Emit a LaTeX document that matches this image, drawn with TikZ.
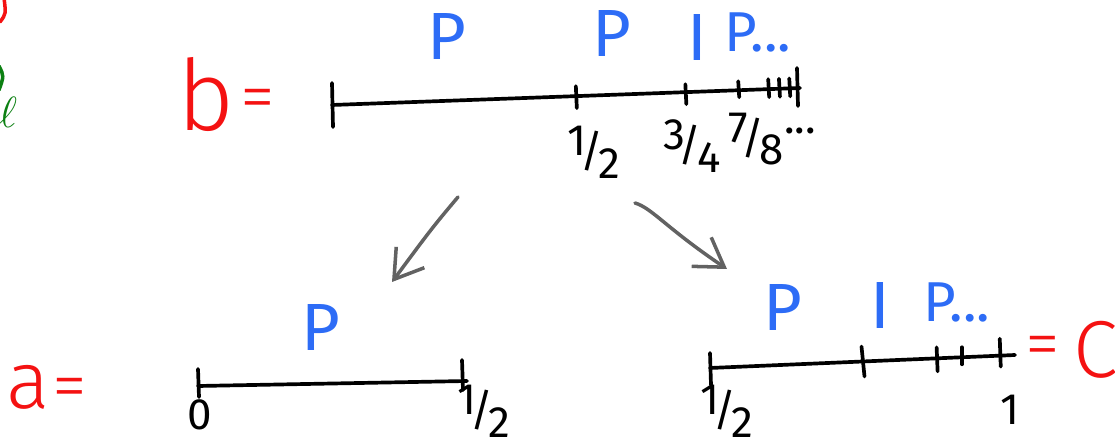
\documentclass[tikz,border=0pt]{standalone}
\usepackage{fontspec}
\setmainfont{Fira Sans}
\newfontfamily\handfont{Fira Sans Light}
\usepackage{tikz}
\usetikzlibrary{
  arrows.meta,
  positioning
}
\definecolor{inkblue}{RGB}{45,108,246}
\definecolor{inkred}{RGB}{244,18,18}
\definecolor{inkgreen}{RGB}{12,128,18}
\definecolor{inkgray}{RGB}{98,98,98}
\newcommand{\hfrac}[2]{\raisebox{0.26em}{#1}\kern-0.14em/\kern-0.1em\raisebox{-0.26em}{#2}}
\tikzset{
  axisline/.style={
    draw=black,
    line width=2.1pt,
    line cap=round,
  },
  tickmark/.style={
    draw=black,
    line width=2.1pt,
    line cap=round,
  },
  ticklbl/.style={
    font=\fontsize{25}{25}\selectfont,
    inner sep=0pt,
  },
  partlbl/.style={
    text=inkblue,
    font=\fontsize{38}{38}\selectfont,
    inner sep=0pt,
  },
  setlbl/.style={
    text=inkred,
    font=\handfont\fontsize{46}{46}\selectfont,
    inner sep=0pt,
  },
  maparr/.style={
    draw=inkgray,
    line width=2pt,
    line cap=round,
    -{Straight Barb[length=5.5mm, width=7mm, line width=2pt]},
  },
}

\begin{document}
\begin{tikzpicture}[
  x=0.02cm, y=-0.02cm,
  every node/.style={align=center},
]
  \useasboundingbox (0,0) rectangle (1115,438);

  % cut-off scribbles at the left edge
  \draw[draw=inkred, line width=2pt, line cap=round] (4,-2) .. controls (6,14) .. (0,22);
  \draw[draw=inkgreen, line width=2pt, line cap=round] (-1,66) .. controls (4,76) .. (-1,90);
  \node[text=inkgreen, font=\fontsize{36}{36}\selectfont, inner sep=0pt] (ell) at (8,112) {$\ell$};

  % Row 1 — the whole interval b
  \node[setlbl, font=\handfont\fontsize{56}{56}\selectfont] (bname) at (206,94) {b};
  \node[setlbl, font=\handfont\fontsize{40}{40}\selectfont] (beq) at (258,105) {=};

  \coordinate (b0) at (332,105);
  \coordinate (b1) at (800,88);
  \draw[axisline] (b0) -- (b1);
  \path (b0) -- (b1)
    coordinate[pos=0.521] (bh)
    coordinate[pos=0.755] (bq)
    coordinate[pos=0.868] (be)
    coordinate[pos=0.932] (bx1)
    coordinate[pos=0.955] (bx2)
    coordinate[pos=0.977] (bx3);
  \draw[tickmark] (b0) ++(0,-22) -- ++(1,44);
  \draw[tickmark] (bh) ++(0,-10) -- ++(1,22);
  \draw[tickmark] (bq) ++(0,-8) -- ++(1,20);
  \draw[tickmark] (be) ++(0,-9) -- ++(1,16);
  \draw[tickmark] (bx1) ++(0,-10) -- ++(1,18);
  \draw[tickmark] (bx2) ++(0,-10) -- ++(1,18);
  \draw[tickmark] (bx3) ++(0,-10) -- ++(1,18);
  \draw[tickmark] (b1) ++(-3,-20) -- ++(1,38);

  \node[ticklbl] (lh) at (594,152) {\hfrac{1}{2}};
  \node[ticklbl] (lq) at (692,146) {\hfrac{3}{4}};
  \node[ticklbl] (le) at (772,139) {\hfrac{7}{8}\raisebox{0.45em}{...}};

  \node[partlbl] (p1) at (447,37) {P};
  \node[partlbl] (p2) at (612,34) {P};
  \node[partlbl] (i1) at (697,38) {I};
  \node[partlbl, font=\fontsize{32}{32}\selectfont] (p3) at (758,32) {P...};

  % the two maps down
  \coordinate (la0) at (458,197);
  \coordinate (la1) at (392,282);
  \coordinate (ra0) at (635,203);
  \coordinate (ra1) at (727,269);
  \draw[maparr] (la0) .. controls (432,228) .. (la1);
  \draw[maparr] (ra0) .. controls (652,208) and (666,228) .. (ra1);

  % Row 2 left — interval a
  \node[setlbl] (aname) at (28,387) {a};
  \node[setlbl, font=\handfont\fontsize{40}{40}\selectfont] (aeq) at (70,394) {=};

  \coordinate (a0) at (198,386);
  \coordinate (a1) at (467,381);
  \draw[axisline] (a0) -- (a1);
  \draw[tickmark] (a0) ++(0,-17) -- ++(1,28);
  \draw[tickmark] (a1) ++(-5,-21) -- ++(1,30);

  \node[ticklbl] (l0) at (200,415) {0};
  \node[ticklbl] (la) at (484,411) {\hfrac{1}{2}};
  \node[partlbl] (pa) at (321,328) {P};

  % Row 2 right — interval c
  \coordinate (c0) at (710,368);
  \coordinate (c1) at (1015,355);
  \draw[axisline] (c0) -- (c1);
  \path (c0) -- (c1)
    coordinate[pos=0.5] (ch)
    coordinate[pos=0.743] (cq)
    coordinate[pos=0.826] (ce)
    coordinate[pos=0.95] (cx);
  \draw[tickmark] (c0) ++(0,-15) -- ++(1,32);
  \draw[tickmark] (ch) ++(-1,-15) -- ++(3,30);
  \draw[tickmark] (cq) ++(0,-11) -- ++(1,24);
  \draw[tickmark] (ce) ++(0,-10) -- ++(0,17);
  \draw[tickmark] (cx) ++(0,-17) -- ++(1,28);

  \node[ticklbl] (lc) at (727,411) {\hfrac{1}{2}};
  \node[ticklbl] (l1) at (1010,410) {1};

  \node[partlbl] (pc1) at (783,308) {P};
  \node[partlbl] (ic) at (880,306) {I};
  \node[partlbl, font=\fontsize{32}{32}\selectfont] (pc2) at (957,302) {P...};

  \node[setlbl, font=\handfont\fontsize{40}{40}\selectfont] (ceq) at (1043,352) {=};
  \node[setlbl] (cname) at (1096,350) {C};
\end{tikzpicture}
\end{document}
